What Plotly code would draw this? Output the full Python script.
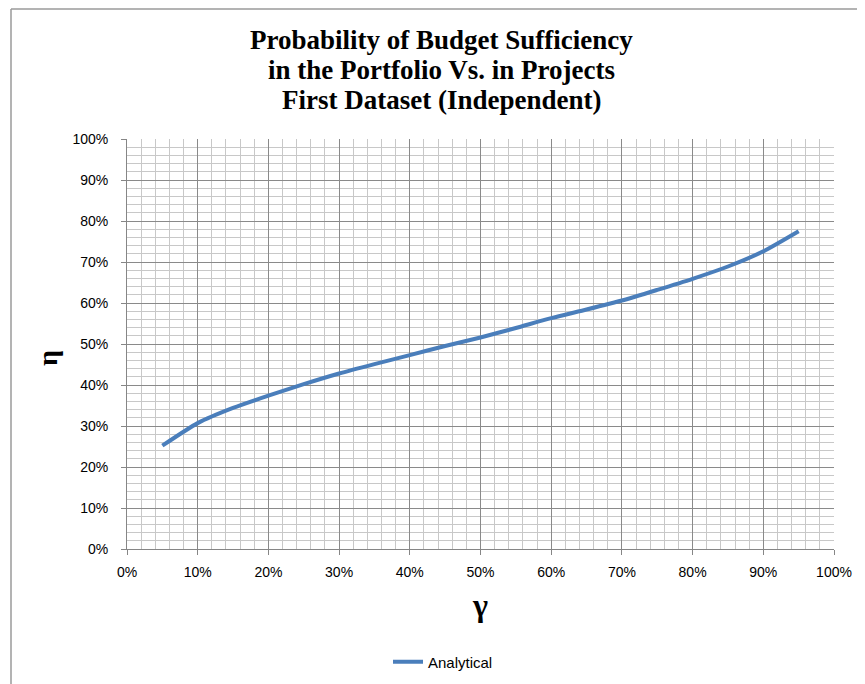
import plotly.graph_objects as go

# Data
gamma = [0.05, 0.10, 0.15, 0.20, 0.25, 0.30, 0.35, 0.40, 0.45, 0.50,
         0.55, 0.60, 0.65, 0.70, 0.75, 0.80, 0.85, 0.90, 0.95]
eta_analytical = [0.252, 0.307, 0.344, 0.374, 0.402, 0.428, 0.451, 0.473, 0.495, 0.516,
                  0.539, 0.563, 0.584, 0.606, 0.632, 0.659, 0.689, 0.726, 0.775]

title_lines = ["Probability of Budget Sufficiency",
               "in the Portfolio Vs. in Projects",
               "First Dataset (Independent)"]
x_title = "γ"
y_title = "η"
series_name = "Analytical"

# The page body adds an 8px offset; compensate so window pixels match the target.
OFF = 8
WIN_W, WIN_H = 865, 684
W, H = WIN_W - OFF, WIN_H - OFF
PLOT_L, PLOT_R, PLOT_T, PLOT_B = 127, 834, 139, 549  # target window pixels
ML = PLOT_L - OFF
MR = W - (PLOT_R - OFF)
MT = PLOT_T - OFF
MB = H - (PLOT_B - OFF)
PW, PH = W - ML - MR, H - MT - MB

def px_to_paper_x(px):
    return (px - OFF - ML) / PW

def px_to_paper_y(py):
    return (H - MB - (py - OFF)) / PH

fig = go.Figure()
fig.add_trace(go.Scatter(
    x=gamma, y=eta_analytical, mode="lines", name=series_name,
    line=dict(color="#4a7ebb", width=4, shape="spline", smoothing=0.6),
))

axis_common = dict(
    range=[0, 1], dtick=0.1, tick0=0, tickformat=".0%",
    showgrid=True, gridcolor="#8a8a8a", gridwidth=1,
    minor=dict(dtick=0.02, showgrid=True, gridcolor="#c8c8c8", gridwidth=1, ticks=""),
    showline=True, linecolor="#868686", linewidth=1,
    ticks="outside", ticklen=5, tickcolor="#868686", tickwidth=1,
    zeroline=False, automargin=False,
    tickfont=dict(family="Liberation Sans", size=14, color="#000000"),
    fixedrange=True,
)

fig.update_layout(
    width=W, height=H,
    margin=dict(l=ML, r=MR, t=MT, b=MB, autoexpand=False),
    paper_bgcolor="white", plot_bgcolor="white",
    xaxis=dict(**axis_common, ticklabelstandoff=5),
    yaxis=dict(**axis_common, ticklabelstandoff=10),
    showlegend=True,
    legend=dict(
        orientation="h", x=px_to_paper_x(443), y=px_to_paper_y(662),
        xanchor="center", yanchor="middle",
        font=dict(family="Liberation Sans", size=15, color="#000000"),
        bgcolor="rgba(0,0,0,0)",
    ),
)

# Title lines (tight Excel-like line spacing)
title_centers = [40, 70, 100]
for line, cy in zip(title_lines, title_centers):
    fig.add_annotation(
        text="<b>%s</b>" % line, xref="paper", yref="paper",
        x=px_to_paper_x(441), y=px_to_paper_y(cy), xanchor="center", yanchor="middle",
        showarrow=False,
        font=dict(family="Liberation Serif", size=27, color="#000000"),
    )

# Axis titles as annotations
fig.add_annotation(
    text="<b>%s</b>" % x_title, xref="paper", yref="paper",
    x=px_to_paper_x(480), y=px_to_paper_y(605), showarrow=False,
    xanchor="center", yanchor="middle",
    font=dict(family="Liberation Serif", size=32, color="#000000"),
)
fig.add_annotation(
    text="<b>%s</b>" % y_title, xref="paper", yref="paper",
    x=px_to_paper_x(47), y=px_to_paper_y(358), showarrow=False, textangle=-90,
    xanchor="center", yanchor="middle",
    font=dict(family="Liberation Serif", size=28, color="#000000"),
)

# Chart-area border (visible on top and left sides)
BORDER_TOP = 9
fig.add_shape(type="line", xref="paper", yref="paper",
              x0=px_to_paper_x(11), x1=px_to_paper_x(11),
              y0=px_to_paper_y(WIN_H + 10), y1=px_to_paper_y(BORDER_TOP),
              line=dict(color="#9a9a9a", width=1.5))
fig.add_shape(type="line", xref="paper", yref="paper",
              x0=px_to_paper_x(11), x1=px_to_paper_x(WIN_W + 10),
              y0=px_to_paper_y(BORDER_TOP), y1=px_to_paper_y(BORDER_TOP),
              line=dict(color="#9a9a9a", width=1.5))

fig.write_html("out.html")
